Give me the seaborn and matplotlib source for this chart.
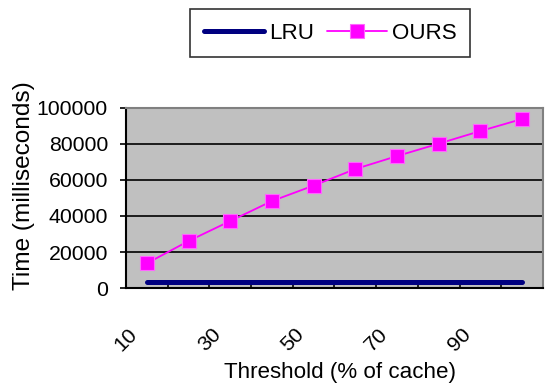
import matplotlib
matplotlib.use("Agg")
import matplotlib.pyplot as plt
from matplotlib import font_manager as fm
import seaborn as sns
import pandas as pd
import numpy as np

# Cache-replacement timing versus threshold
thresholds = [10, 20, 30, 40, 50, 60, 70, 80, 90, 100]
lru_ms = [3200, 3200, 3200, 3200, 3200, 3200, 3200, 3200, 3200, 3200]
ours_ms = [13700, 26100, 37200, 48300, 56900, 66100, 73300, 80200, 87200, 93900]
y_ticks = [0, 20000, 40000, 60000, 80000, 100000]
x_tick_labels = ["10", "30", "50", "70", "90"]

sns.set_theme(style="white")
plt.rcParams["font.family"] = ["Liberation Sans", "DejaVu Sans"]
for key in ["text.color", "axes.labelcolor", "xtick.color", "ytick.color"]:
    plt.rcParams[key] = "black"

# titles and legend use a narrow face when one is available
installed = {f.name for f in fm.fontManager.ttflist}
if "Liberation Sans Narrow" in installed:
    TITLE_FAMILY = ["Liberation Sans Narrow", "DejaVu Sans"]
    TFS, YFS = 19.7, 19.7
else:
    TITLE_FAMILY = ["Liberation Sans", "DejaVu Sans"]
    TFS, YFS = 16.1, 17.6
TICK_FS = 15.3
em_px = TFS * 100 / 72

pos = np.arange(len(thresholds))
df = pd.DataFrame({"pos": pos, "LRU": lru_ms, "OURS": ours_ms})

fig = plt.figure(figsize=(5.45, 3.92), dpi=100)
ax = fig.add_axes([0.2312, 0.2653, 0.7651, 0.4592])
ax.set_facecolor("#C0C0C0")

sns.lineplot(data=df, x="pos", y="LRU", ax=ax, color="#000080", linewidth=3.6,
             solid_capstyle="round", label="LRU", zorder=3)
sns.lineplot(data=df, x="pos", y="OURS", ax=ax, color="#FF00FF", linewidth=1.3,
             marker="s", markersize=10, markerfacecolor="#FF00FF",
             markeredgecolor="#FF66FF", markeredgewidth=0.8, label="OURS", zorder=4)

ax.set_xlim(-0.5, len(thresholds) - 0.5)
ax.set_ylim(0, 100000)
ax.set_yticks(y_ticks)
ax.set_yticklabels([str(v) for v in y_ticks])
for v in y_ticks[1:-1]:
    ax.axhline(v, color="black", linewidth=1.2, zorder=1)

# category boundaries carry the tick marks; every other category is labelled
ax.set_xticks(np.arange(-0.5, len(thresholds)))
ax.set_xticklabels([])
ax.tick_params(axis="x", which="major", direction="in", length=3, width=1.2,
               color="black", bottom=True)
for p, lab in zip(pos[::2], x_tick_labels):
    ax.annotate(lab, xy=(p, 0), xycoords=("data", "axes fraction"),
                xytext=(-21, -52), textcoords="offset pixels",
                rotation=45, ha="center", va="center", rotation_mode="anchor",
                fontsize=TICK_FS, annotation_clip=False)

ax.tick_params(axis="y", which="major", direction="out", length=4, width=1.2,
               color="black", left=True, pad=9, labelsize=TICK_FS)

for side in ["left", "bottom"]:
    ax.spines[side].set_color("black")
    ax.spines[side].set_linewidth(1.5)
for side in ["top", "right"]:
    ax.spines[side].set_color("#808080")
    ax.spines[side].set_linewidth(1.5)

ax.set_xlabel("Threshold (% of cache)", fontsize=TFS, family=TITLE_FAMILY)
ax.xaxis.set_label_coords(0.513, -0.41)
ax.set_ylabel("Time (milliseconds)", fontsize=YFS, family=TITLE_FAMILY)
ax.yaxis.set_label_coords(-0.219, 0.567)

ax.get_legend().remove()
handles, labels = ax.get_legend_handles_labels()
leg = fig.legend(handles, labels, loc="center", bbox_to_anchor=(0.6055, 0.9158),
                 ncol=2, frameon=True, fancybox=False,
                 prop={"family": TITLE_FAMILY, "size": TFS},
                 handlelength=60 / em_px, columnspacing=13 / em_px,
                 handletextpad=5 / em_px, borderpad=0.62)
leg.get_frame().set_edgecolor("black")
leg.get_frame().set_linewidth(1.2)

fig.savefig("out.png", dpi=100)
